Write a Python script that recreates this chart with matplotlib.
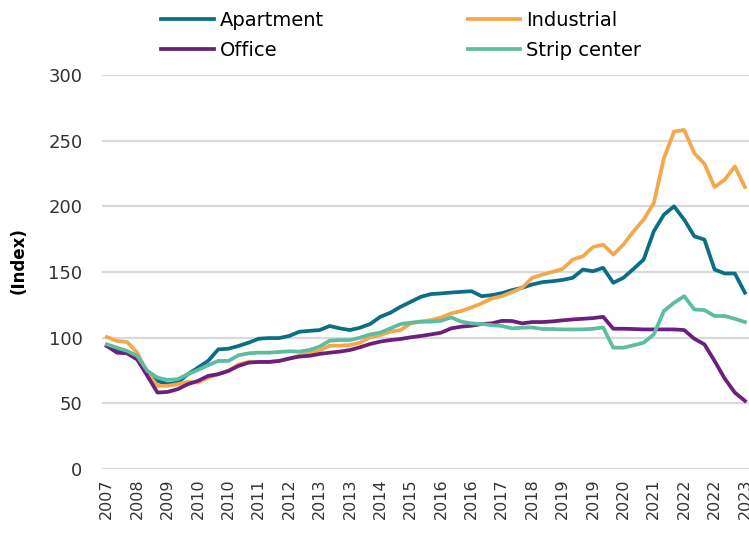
import matplotlib.pyplot as plt

# data indeks per kuartal (2007Q4 - 2023Q3)
apartment = [93.7, 91, 88.6, 83.5, 73.4, 67, 64.6, 65.8, 72.2, 77.2,
             82.3, 91.1, 91.6, 93.7, 96.2, 99.2, 99.7, 99.7, 101.3, 104.5,
             105.2, 105.8, 108.9, 107.1, 105.8, 107.6, 110.4, 115.9, 119, 123.5,
             127.3, 131.1, 133.2, 133.7, 134.4, 134.9, 135.4, 131.6, 132.4, 133.9,
             136.2, 138, 140.5, 142.3, 143, 144, 145.6, 151.9, 150.6, 153.2,
             141.8, 145.6, 152.4, 159.5, 181, 193.7, 200, 189.9, 177.2, 174.7,
             151.9, 148.9, 148.9, 134.2]
industrial = [100.5, 97.5, 96.7, 88.6, 73.4, 63.3, 63.3, 64.6, 66.3, 65.8,
              69.6, 72.2, 74.7, 79.7, 81.5, 81.5, 81.5, 82.3, 84.1, 86.5,
              88.3, 90.1, 93.9, 93.9, 94.4, 96.2, 100.3, 102, 104.6, 105.8,
              110.9, 112.2, 113.4, 115.4, 118.5, 120.3, 123, 126.1, 129.9, 131.6,
              134.7, 138, 145.6, 148, 150.1, 152.4, 159.5, 162, 169, 170.9,
              163.3, 170.9, 181, 189.9, 202.5, 236.7, 257, 258.2, 240.5, 232.4,
              214.7, 220.3, 230.4, 214.7]
office = [93.7, 88.6, 88.1, 83.5, 70.9, 58.2, 58.7, 60.8, 64.6, 67.1,
          70.9, 72.2, 74.7, 78.5, 81, 81.5, 81.5, 82.3, 84.1, 85.6,
          86.2, 87.6, 88.6, 89.4, 90.6, 92.7, 95.2, 97, 98.2, 99,
          100.3, 101.3, 102.5, 103.8, 107.1, 108.4, 109.1, 110.4, 110.9, 112.8,
          112.7, 110.9, 111.9, 111.9, 112.4, 113.2, 113.9, 114.4, 114.9, 115.9,
          106.8, 106.8, 106.6, 106.3, 106.3, 106.3, 106.3, 105.8, 99.2, 94.9,
          82.3, 68.9, 58.2, 51.9]
strip = [94.9, 92.4, 89.9, 86.1, 74.7, 69.6, 67.8, 68.4, 72.2, 75.4,
         79, 82.3, 82.3, 86.6, 88.1, 88.6, 88.6, 89.1, 89.6, 89.4,
         90.6, 93.2, 97.7, 98.2, 98.2, 100, 102.5, 103.8, 107.1, 110.4,
         111.4, 112.2, 112.2, 112.9, 115.4, 112.2, 110.9, 110.4, 109.6, 108.9,
         107.1, 107.6, 107.8, 106.6, 106.6, 106.3, 106.3, 106.3, 106.8, 107.8,
         92.4, 92.4, 94.2, 96.2, 102.5, 120.3, 126.6, 131.6, 121.5, 121,
         116.5, 116.5, 114.4, 111.9]

# label sumbu x tiap 3 kuartal
xlabels = ["2007", "2008", "2009", "2010", "2010", "2011", "2012", "2013",
           "2013", "2014", "2015", "2016", "2016", "2017", "2018", "2019",
           "2019", "2020", "2021", "2022", "2022", "2023"]
yticks = [0, 50, 100, 150, 200, 250, 300]

fig = plt.figure(figsize=(7.49, 5.36), dpi=100)
ax = fig.add_axes([0.136, 0.125, 0.864, 0.735])

x = list(range(len(apartment)))
l1, = ax.plot(x, apartment, color="#0A6E86", lw=2.7, label="Apartment")
l2, = ax.plot(x, industrial, color="#F4A84A", lw=2.7, label="Industrial")
l3, = ax.plot(x, office, color="#6C1F7D", lw=2.7, label="Office")
l4, = ax.plot(x, strip, color="#5CBDA0", lw=2.7, label="Strip center")

ax.set_xlim(-0.49, 63.4)
ax.set_ylim(0, 300)
ax.set_yticks(yticks)
ax.set_xticks(range(0, 3 * len(xlabels), 3))
ax.set_xticklabels(xlabels, rotation=90)
ax.tick_params(axis="y", length=0, pad=14, labelsize=13, labelcolor="#333333")
ax.tick_params(axis="x", length=0, pad=7, labelsize=11.5, labelcolor="#333333")
ax.grid(axis="y", color="#d9d9d9", lw=1.6)
ax.set_axisbelow(True)
for s in ax.spines.values():
    s.set_visible(False)

ax.set_ylabel("(Index)", fontsize=12, fontweight="bold")
ax.yaxis.set_label_coords(-0.114, 0.53)

# legenda 2 kolom: baris 1 Apartment/Industrial, baris 2 Office/Strip center
fig.legend(handles=[l1, l3, l2, l4], loc="upper left", ncol=2,
           bbox_to_anchor=(0.192, 1.012), frameon=False,
           prop={"size": 14},
           handlelength=2.7, handletextpad=0.3, columnspacing=7.4,
           labelspacing=0.55)

plt.savefig("out.png", dpi=100)
